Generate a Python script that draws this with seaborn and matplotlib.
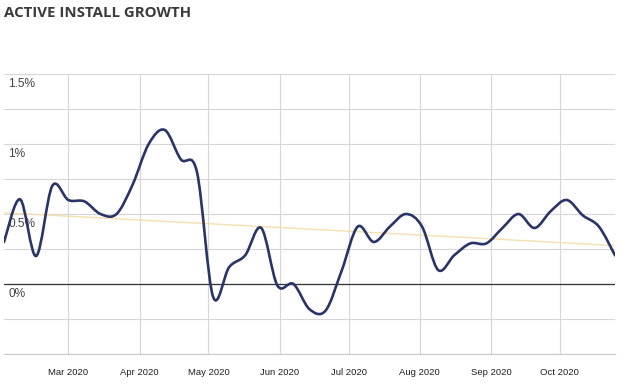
import numpy as np
import pandas as pd
import matplotlib
matplotlib.use("Agg")
import matplotlib.pyplot as plt
import matplotlib.dates as mdates
from matplotlib.path import Path
from matplotlib.patches import PathPatch
import seaborn as sns

# weekly growth values (%), first point Sun 2 Feb 2020
start_date = "2020-02-02"
growth = [0.30, 0.605, 0.20, 0.70, 0.60, 0.59, 0.50, 0.50, 0.71, 1.00,
          1.10, 0.89, 0.80, -0.09, 0.12, 0.205, 0.40, -0.01, 0.0, -0.18,
          -0.19, 0.095, 0.41, 0.30, 0.41, 0.50, 0.41, 0.10, 0.205, 0.29,
          0.29, 0.40, 0.50, 0.40, 0.52, 0.60, 0.49, 0.41, 0.205]
y_ticks = [-0.5, -0.25, 0, 0.25, 0.5, 0.75, 1.0, 1.25, 1.5]
y_labels = {0: "0%", 0.5: "0.5%", 1.0: "1%", 1.5: "1.5%"}

dates = pd.date_range(start_date, periods=len(growth), freq="7D")
df = pd.DataFrame({"date": dates, "growth": growth})
df["x"] = mdates.date2num(df["date"])

sns.set_style("white")
plt.rcParams["font.family"] = ["Liberation Sans", "DejaVu Sans"]

fig = plt.figure(figsize=(6.37, 3.87), dpi=100)
ax = fig.add_axes([4 / 637, 1 - 354 / 387, 611 / 637, 280 / 387])

# smooth curve through the weekly points (catmull-rom as bezier)
px = df["x"].to_numpy()
py = df["growth"].to_numpy()
pts = np.column_stack([px, py])
ext = np.vstack([pts[0], pts, pts[-1]])
verts = [tuple(pts[0])]
codes = [Path.MOVETO]
for i in range(len(pts) - 1):
    p0, p1, p2, p3 = ext[i], ext[i + 1], ext[i + 2], ext[i + 3]
    c1 = p1 + (p2 - p0) / 6
    c2 = p2 - (p3 - p1) / 6
    verts += [tuple(c1), tuple(c2), tuple(p2)]
    codes += [Path.CURVE4] * 3
ax.add_patch(PathPatch(Path(verts, codes), facecolor="none",
                       edgecolor="#2a3468", lw=1.9, zorder=4,
                       capstyle="round", joinstyle="round"))

# linear trend line
sns.regplot(data=df, x="x", y="growth", scatter=False, ci=None, ax=ax,
            line_kws={"color": "#f6dfb0", "lw": 1.0, "zorder": 3})

ax.set_xlim(px[0], px[-1])
ax.set_ylim(-0.5, 1.5)
ax.set_yticks(y_ticks)
ax.set_yticklabels([])
ax.tick_params(axis="y", length=0)
ax.xaxis.set_major_locator(mdates.MonthLocator(bymonth=range(3, 11)))
ax.xaxis.set_major_formatter(mdates.DateFormatter("%b %Y"))
ax.tick_params(axis="x", length=0, labelsize=6.8, labelcolor="#1e1e1e", pad=10)
ax.grid(True, color="#d6d6d6", lw=0.8, zorder=0)
ax.set_axisbelow(True)
ax.axhline(0, color="#333333", lw=0.9, zorder=2)
for s in ["top", "left", "right"]:
    ax.spines[s].set_visible(False)
ax.spines["bottom"].set_color("#cccccc")
ax.spines["bottom"].set_linewidth(0.9)
ax.set_xlabel("")
ax.set_ylabel("")

for val, lab in y_labels.items():
    ax.annotate(lab, xy=(0, val), xycoords=("axes fraction", "data"),
                xytext=(3, -7.5), textcoords="offset points",
                ha="left", va="center", fontsize=8.6, color="#444444")

fig.text(4 / 637, 1 - 13 / 387, "ACTIVE INSTALL GROWTH", ha="left",
         va="center", fontsize=10.8, fontweight="bold", color="#3b3b3b",
         family=["Open Sans", "DejaVu Sans"])

fig.savefig("out.png", dpi=100, facecolor="white")
